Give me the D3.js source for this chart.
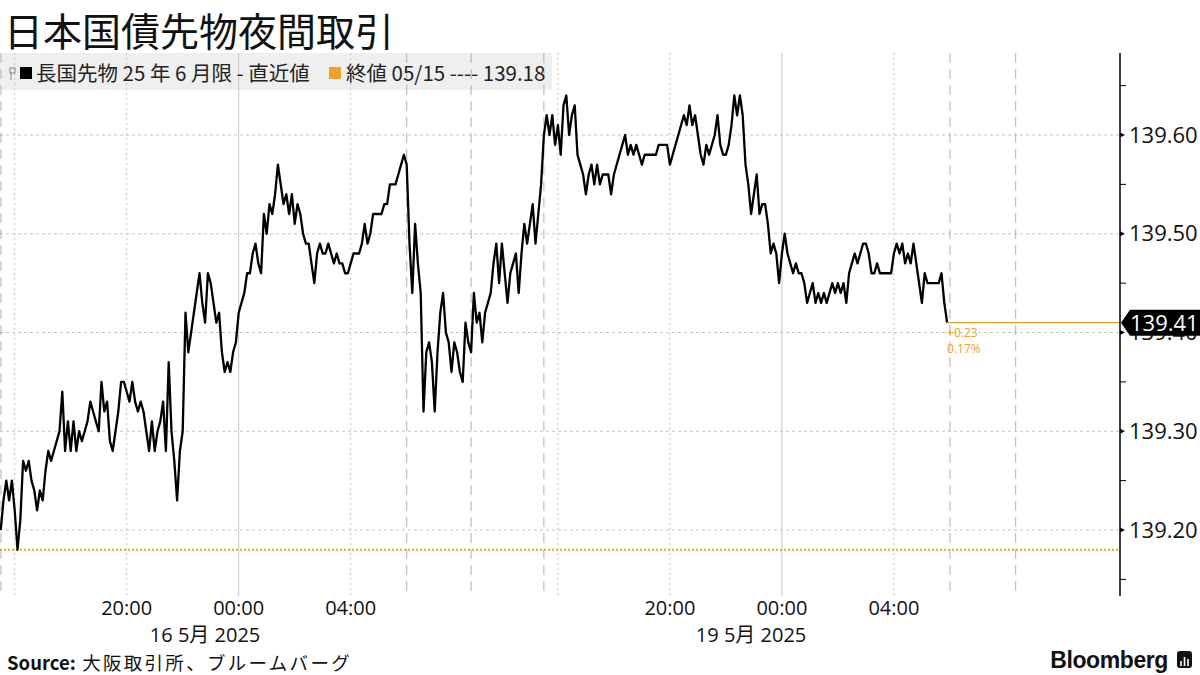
<!DOCTYPE html>
<html>
<head>
<meta charset="utf-8">
<script src="https://cdn.jsdelivr.net/npm/d3@7"></script>
<style>
  html, body { margin: 0; padding: 0; background: #fff; }
  svg { display: block; }
  .num { font-family: "Open Sans", "Noto Sans CJK JP", sans-serif; }
  .jp { font-family: "Noto Sans CJK JP", "Noto Sans", sans-serif; }
</style>
</head>
<body>
<svg id="chart" width="1200" height="675"></svg>
<script>
// night session of trade date 16 May (15:30 -> 06:00), one value per bar
var night1 = [
  139.20, 139.23, 139.25, 139.23, 139.25, 139.22, 139.18, 139.21, 139.27, 139.26,
  139.27, 139.25, 139.24, 139.22, 139.24, 139.23, 139.26, 139.28, 139.27, 139.28,
  139.29, 139.30, 139.34, 139.28, 139.31, 139.28, 139.31, 139.28, 139.30, 139.29,
  139.30, 139.31, 139.33, 139.32, 139.31, 139.30, 139.35, 139.32, 139.33, 139.29,
  139.28, 139.30, 139.32, 139.35, 139.35, 139.34, 139.33, 139.35, 139.33, 139.32,
  139.33, 139.32, 139.30, 139.28, 139.31, 139.28, 139.30, 139.31, 139.33, 139.28,
  139.37, 139.30, 139.27, 139.23, 139.28, 139.30, 139.42, 139.38, 139.40, 139.42,
  139.44, 139.46, 139.43, 139.41, 139.46, 139.45, 139.43, 139.41, 139.42, 139.38,
  139.36, 139.37, 139.36, 139.38, 139.39, 139.42, 139.43, 139.44, 139.46, 139.46,
  139.48, 139.49, 139.47, 139.46, 139.52, 139.50, 139.53, 139.52, 139.54, 139.57,
  139.55, 139.53, 139.54, 139.52, 139.54, 139.51, 139.53, 139.52, 139.50, 139.49,
  139.49, 139.47, 139.45, 139.48, 139.49, 139.48, 139.48, 139.49, 139.48, 139.47,
  139.48, 139.47, 139.47, 139.46, 139.46, 139.47, 139.48, 139.48, 139.48, 139.49,
  139.51, 139.49, 139.50, 139.52, 139.52, 139.52, 139.52, 139.53, 139.53, 139.55,
  139.55, 139.55, 139.56, 139.57, 139.58, 139.57
];
// day session 16 May
var day = [
  139.49, 139.44, 139.51, 139.47, 139.44, 139.32, 139.38, 139.39, 139.37, 139.32,
  139.38, 139.42, 139.44, 139.40, 139.39, 139.36, 139.39, 139.38, 139.36, 139.35,
  139.41, 139.39, 139.38, 139.44, 139.41, 139.42, 139.39, 139.42, 139.43, 139.44,
  139.47, 139.49, 139.45, 139.49, 139.46, 139.43, 139.46, 139.47, 139.48, 139.44,
  139.48, 139.51, 139.49, 139.51, 139.53, 139.49, 139.52, 139.55
];
// night session of trade date 19 May
var night2 = [
  139.60, 139.62, 139.60, 139.62, 139.59, 139.61, 139.58, 139.63, 139.64, 139.60,
  139.62, 139.63, 139.58, 139.57, 139.56, 139.54, 139.56, 139.57, 139.55, 139.57,
  139.55, 139.56, 139.56, 139.56, 139.54, 139.56, 139.57, 139.58, 139.59, 139.60,
  139.58, 139.59, 139.58, 139.59, 139.58, 139.57, 139.58, 139.58, 139.58, 139.58,
  139.58, 139.59, 139.59, 139.59, 139.59, 139.57, 139.58, 139.59, 139.60, 139.61,
  139.62, 139.61, 139.63, 139.61, 139.62, 139.60, 139.58, 139.57, 139.59, 139.58,
  139.59, 139.60, 139.62, 139.59, 139.58, 139.58, 139.59, 139.61, 139.64, 139.62,
  139.64, 139.62, 139.57, 139.55, 139.52, 139.54, 139.56, 139.52, 139.53, 139.53,
  139.51, 139.48, 139.49, 139.48, 139.45, 139.48, 139.50, 139.48, 139.47, 139.46,
  139.47, 139.46, 139.46, 139.45, 139.43, 139.44, 139.45, 139.43, 139.44, 139.43,
  139.44, 139.43, 139.44, 139.45, 139.44, 139.45, 139.44, 139.45, 139.43, 139.46,
  139.47, 139.48, 139.47, 139.48, 139.49, 139.49, 139.48, 139.46, 139.46, 139.47,
  139.46, 139.46, 139.46, 139.46, 139.46, 139.48, 139.49, 139.48, 139.49, 139.47,
  139.48, 139.47, 139.49, 139.47, 139.45, 139.43, 139.46, 139.45, 139.45, 139.45,
  139.45, 139.45, 139.46, 139.43, 139.41
];

var prevClose = 139.18;
var lastValue = 139.41;
var change = "+0.23";
var changePct = "0.17%";

// bar positions of the time grid
var hourTicks = [5, 45, 85, 125, 199, 239, 279, 319];
var hourLabels = ["", "20:00", "00:00", "04:00", "", "20:00", "00:00", "04:00"];
var midnightTicks = [85, 279];
var sessionLines = [0, 145, 168, 194, 339, 362.5];
var dateBars = [73, 268];
var dateLabels = ["16 5月 2025", "19 5月 2025"];

var yMajor = [139.20, 139.30, 139.40, 139.50, 139.60];
var yMinor = [139.15, 139.25, 139.35, 139.45, 139.55, 139.65];

var title = "日本国債先物夜間取引";
var legend1 = "長国先物 25 年 6 月限 - 直近値";
var legend2 = "終値 05/15 ---- 139.18";

var ORANGE = "#f0a02c";
var TOP = 53, BOTTOM = 596, AXIS_X = 1120;

var series = night1.concat(day, night2).map(function(v, i) {
    return { bar: i, v: v };
});

var svg = d3.select("#chart");

var x = d3.scaleLinear().domain([-0.25, 399.75]).range([0, AXIS_X]);
var y = d3.scaleLinear().domain([139.20, 139.60]).range([530, 135]);

// title
svg.append("text")
    .attr("class", "jp")
    .attr("x", 4).attr("y", 45.5)
    .attr("font-size", 39)
    .attr("fill", "#111")
    .text(title);

// legend band
svg.append("rect")
    .attr("x", 0).attr("y", TOP)
    .attr("width", 552).attr("height", 90 - TOP)
    .attr("fill", "#efefef");

// horizontal grid
svg.append("g").selectAll("line")
    .data(yMajor)
    .enter()
    .append("line")
    .attr("x1", 0).attr("x2", AXIS_X)
    .attr("y1", function(d) { return y(d); })
    .attr("y2", function(d) { return y(d); })
    .attr("stroke", "#c4c4c4")
    .attr("stroke-dasharray", "3,3");

// vertical grid: hours, midnight, session boundaries
svg.append("g").selectAll("line")
    .data(hourTicks.filter(function(d) { return midnightTicks.indexOf(d) < 0; }))
    .enter()
    .append("line")
    .attr("x1", function(d) { return x(d); })
    .attr("x2", function(d) { return x(d); })
    .attr("y1", TOP).attr("y2", BOTTOM)
    .attr("stroke", "#c4c4c4")
    .attr("stroke-dasharray", "2,3");

svg.append("g").selectAll("line")
    .data(midnightTicks)
    .enter()
    .append("line")
    .attr("x1", function(d) { return x(d); })
    .attr("x2", function(d) { return x(d); })
    .attr("y1", TOP).attr("y2", BOTTOM)
    .attr("stroke", "#c8c8c8");

svg.append("g").selectAll("line")
    .data(sessionLines)
    .enter()
    .append("line")
    .attr("x1", function(d) { return Math.max(1, x(d)); })
    .attr("x2", function(d) { return Math.max(1, x(d)); })
    .attr("y1", TOP).attr("y2", BOTTOM)
    .attr("stroke", "#b0b0b0")
    .attr("stroke-dasharray", "10,6");

// previous close, dotted orange
svg.append("line")
    .attr("x1", 0).attr("x2", AXIS_X)
    .attr("y1", y(prevClose)).attr("y2", y(prevClose))
    .attr("stroke", ORANGE)
    .attr("stroke-width", 2)
    .attr("stroke-dasharray", "2,2");

// legend contents
var lg = svg.append("g");
lg.append("rect").attr("x", 10).attr("y", 68).attr("width", 5).attr("height", 5)
    .attr("fill", "none").attr("stroke", "#888").attr("stroke-width", 1);
lg.append("line").attr("x1", 11).attr("x2", 11).attr("y1", 73).attr("y2", 80)
    .attr("stroke", "#888");
lg.append("rect").attr("x", 20).attr("y", 67).attr("width", 12).attr("height", 12)
    .attr("fill", "#000");
lg.append("text").attr("class", "jp")
    .attr("x", 36).attr("y", 81)
    .attr("font-size", 20.5).attr("fill", "#222")
    .text(legend1);
lg.append("rect").attr("x", 329).attr("y", 67).attr("width", 12).attr("height", 12)
    .attr("fill", ORANGE);
lg.append("text").attr("class", "jp")
    .attr("x", 346).attr("y", 81)
    .attr("font-size", 20.5).attr("fill", "#222")
    .text(legend2);

// price line
var line = d3.line()
    .x(function(d) { return x(d.bar); })
    .y(function(d) { return y(d.v); });

svg.append("path")
    .datum(series)
    .attr("d", line)
    .attr("fill", "none")
    .attr("stroke", "#000")
    .attr("stroke-width", 2.3)
    .attr("stroke-linejoin", "round");

// last value guide
var last = series[series.length - 1];
svg.append("line")
    .attr("x1", x(last.bar)).attr("x2", AXIS_X)
    .attr("y1", y(lastValue)).attr("y2", y(lastValue))
    .attr("stroke", ORANGE)
    .attr("stroke-width", 1.2);

svg.append("text").attr("class", "num")
    .attr("x", x(last.bar)).attr("y", y(lastValue) + 14)
    .attr("font-size", 12).attr("fill", ORANGE)
    .text(change);
svg.append("text").attr("class", "num")
    .attr("x", x(last.bar)).attr("y", y(lastValue) + 30)
    .attr("font-size", 12).attr("fill", ORANGE)
    .text(changePct);

// right axis
var yAxis = d3.axisRight(y)
    .tickValues(yMajor)
    .tickSize(0)
    .tickPadding(9)
    .tickFormat(d3.format(".2f"));

var ag = svg.append("g")
    .attr("transform", "translate(" + AXIS_X + ",0)")
    .call(yAxis);
ag.select(".domain").remove();
ag.selectAll("text")
    .attr("class", "num")
    .attr("font-size", 22)
    .attr("fill", "#111");

svg.append("line")
    .attr("x1", AXIS_X).attr("x2", AXIS_X)
    .attr("y1", TOP).attr("y2", BOTTOM)
    .attr("stroke", "#000").attr("stroke-width", 1.5);

svg.append("g").selectAll("path")
    .data(yMajor)
    .enter()
    .append("path")
    .attr("d", function(d) {
        var yy = y(d);
        return "M" + AXIS_X + "," + (yy - 2.5) + "L" + (AXIS_X + 5) + "," + yy +
            "L" + AXIS_X + "," + (yy + 2.5) + "Z";
    })
    .attr("fill", "#000");

svg.append("g").selectAll("line")
    .data(yMinor)
    .enter()
    .append("line")
    .attr("x1", AXIS_X).attr("x2", AXIS_X + 6)
    .attr("y1", function(d) { return y(d); })
    .attr("y2", function(d) { return y(d); })
    .attr("stroke", "#000");

// last price tag
var ty = y(lastValue);
svg.append("path")
    .attr("d", "M" + (AXIS_X + 1) + "," + ty +
        "L" + (AXIS_X + 10) + "," + (ty - 13) +
        "L1200," + (ty - 13) + "L1200," + (ty + 13) +
        "L" + (AXIS_X + 10) + "," + (ty + 13) + "Z")
    .attr("fill", "#000");
svg.append("text").attr("class", "num")
    .attr("x", AXIS_X + 10).attr("y", ty + 8)
    .attr("font-size", 22).attr("fill", "#fff")
    .text(d3.format(".2f")(lastValue));

// bottom time labels
svg.append("g").selectAll("text")
    .data(hourTicks.map(function(b, i) { return { bar: b, label: hourLabels[i] }; })
        .filter(function(d) { return d.label; }))
    .enter()
    .append("text")
    .attr("class", "num")
    .attr("x", function(d) { return x(d.bar); })
    .attr("y", 614.5)
    .attr("text-anchor", "middle")
    .attr("font-size", 20)
    .attr("fill", "#111")
    .text(function(d) { return d.label; });

svg.append("g").selectAll("text")
    .data(dateBars)
    .enter()
    .append("text")
    .attr("class", "num")
    .attr("x", function(d) { return x(d); })
    .attr("y", 642)
    .attr("text-anchor", "middle")
    .attr("font-size", 20)
    .attr("fill", "#111")
    .text(function(d, i) { return dateLabels[i]; });

// footer
var src = svg.append("text").attr("class", "jp")
    .attr("x", 7).attr("y", 670)
    .attr("font-size", 18.5).attr("fill", "#111");
src.append("tspan").attr("font-weight", "bold").text("Source:");
src.append("tspan").attr("letter-spacing", 2.3).text(" 大阪取引所、ブルームバーグ");

svg.append("text")
    .attr("x", 1168).attr("y", 668)
    .attr("text-anchor", "end")
    .attr("font-family", "Liberation Sans, Arial, sans-serif")
    .attr("font-weight", "bold")
    .attr("font-size", 23)
    .attr("letter-spacing", -0.4)
    .attr("fill", "#111")
    .text("Bloomberg");

var logo = svg.append("g").attr("transform", "translate(1177,651)");
logo.append("rect").attr("width", 15).attr("height", 17).attr("rx", 3).attr("fill", "#111");
logo.selectAll("line.bar")
    .data([[4, 10], [7.5, 6], [11, 8]])
    .enter()
    .append("line")
    .attr("x1", function(d) { return d[0]; })
    .attr("x2", function(d) { return d[0]; })
    .attr("y1", 15)
    .attr("y2", function(d) { return d[1]; })
    .attr("stroke", "#fff")
    .attr("stroke-width", 1.6);
</script>
</body>
</html>
